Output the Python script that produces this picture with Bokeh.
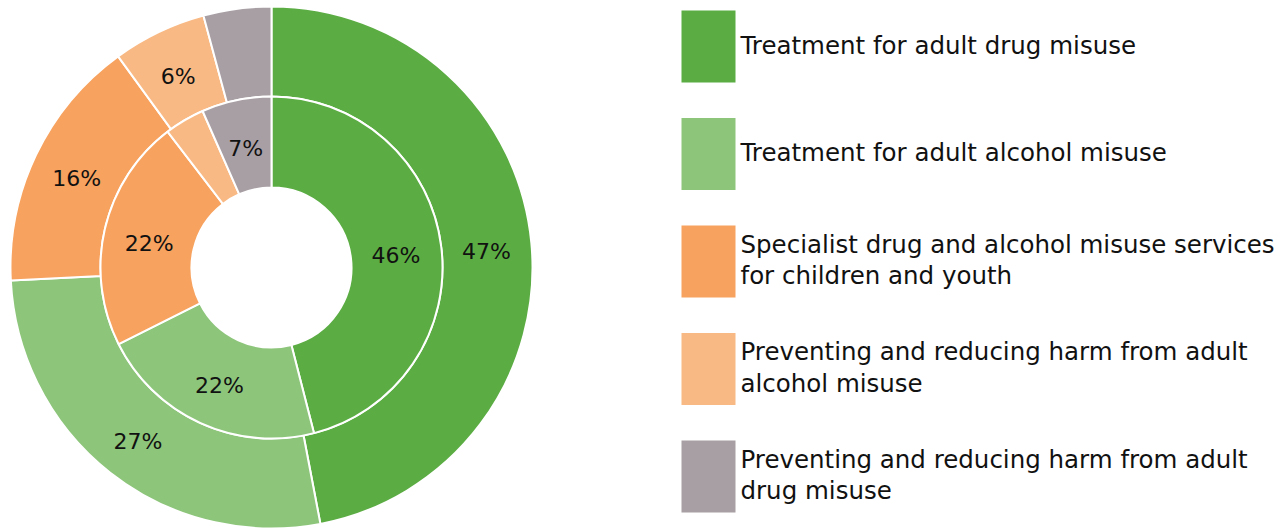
import math
from bokeh.plotting import figure
from bokeh.models import Range1d, ColumnDataSource
from bokeh.core.properties import value
from bokeh.embed import file_html
from bokeh.resources import INLINE

categories = [
    "Treatment for adult drug misuse",
    "Treatment for adult alcohol misuse",
    "Specialist drug and alcohol misuse services\nfor children and youth",
    "Preventing and reducing harm from adult\nalcohol misuse",
    "Preventing and reducing harm from adult\ndrug misuse",
]
colors = ["#5BAD43", "#8DC57B", "#F7A25E", "#F9B984", "#A89FA4"]
outer_values = [47.0, 27.2, 15.8, 5.8, 4.2]
outer_labels = ["47%", "27%", "16%", "6%", ""]
inner_values = [46.0, 21.6, 22.0, 3.8, 6.6]
inner_labels = ["46%", "22%", "22%", "", "7%"]

W, H = 1286, 529
# data units are screen pixels: x = image x, y = 529 - image y
p = figure(width=W, height=H, output_backend="svg", toolbar_location=None,
           x_range=Range1d(0, W), y_range=Range1d(529 - H, 529),
           min_border=0)
p.axis.visible = False
p.grid.visible = False
p.outline_line_color = None
p.background_fill_color = "white"
p.border_fill_color = "white"

cx, cy = 271, 529 - 267
FONT = "DejaVu Sans"


def ring(values, labels, r_in, r_out):
    total = sum(values)
    starts, ends, lx, ly = [], [], [], []
    c = 0.0
    for v in values:
        c0, c1 = c / total, (c + v) / total
        starts.append(math.pi / 2 - 2 * math.pi * c1)
        ends.append(math.pi / 2 - 2 * math.pi * c0)
        mid = (c0 + c1) / 2
        rm = (r_in + r_out) / 2
        lx.append(cx + rm * math.sin(2 * math.pi * mid))
        ly.append(cy + rm * math.cos(2 * math.pi * mid) - 4)
        c += v
    src = ColumnDataSource(dict(start=starts, end=ends, color=colors,
                                lx=lx, ly=ly, label=labels))
    p.annular_wedge(x=cx, y=cy, inner_radius=r_in, outer_radius=r_out,
                    start_angle="start", end_angle="end", fill_color="color",
                    line_color="white", line_width=2, source=src)
    p.text(x="lx", y="ly", text="label", source=src, text_align="center",
           text_baseline="middle", text_font=value(FONT),
           text_font_size="22px", text_color="#111111")


ring(outer_values, outer_labels, 171, 261)
ring(inner_values, inner_labels, 80, 171)

# legend
sq_x, sq_w, sq_h = 708, 54, 72
top0, pitch = 10, 107.5
sy = [529 - (top0 + i * pitch + sq_h / 2) for i in range(len(categories))]
ys = [v + 1.5 for v in sy]
leg = ColumnDataSource(dict(y=ys, sy=sy, color=colors, text=categories,
                            tx=[740] * len(categories)))
p.rect(x=sq_x, y="sy", width=sq_w, height=sq_h, fill_color="color",
       line_color=None, source=leg)
p.text(x="tx", y="y", text="text", source=leg, text_align="left",
       text_baseline="middle", text_font=value(FONT), text_font_size="24.5px",
       text_line_height=1.08, text_color="#111111")

open("out.html", "w").write(file_html(p, INLINE))
